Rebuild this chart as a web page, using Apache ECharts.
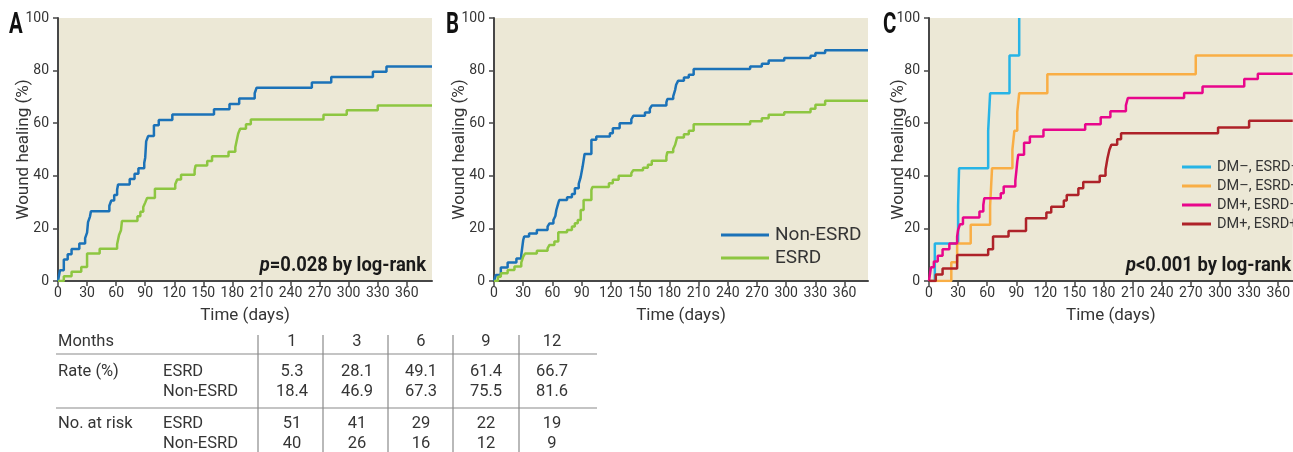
<!DOCTYPE html>
<html>
<head>
<meta charset="utf-8">
<script src="https://cdn.jsdelivr.net/npm/echarts@6/dist/echarts.min.js"></script>
<style>
  html, body { margin: 0; padding: 0; background: #fff; }
  #main { width: 1293px; height: 452px; }
</style>
</head>
<body>
<div id="main"></div>
<script>
var FONT = "Roboto, 'Liberation Sans', sans-serif";

// panel A: all patients, [days, healed %]
var aNonEsrd = [[0,0],[2,4.1],[6,8.2],[10,10.2],[14,12.2],[22,14.3],[28,16.3],[30,18.4],[31,22.4],[33,24.5],[34,26.5],[53,28.6],[55,30.6],[58,32.7],[61,34.7],[62,36.7],[74,38.8],[79,40.8],[83,42.9],[89,44.9],[90,46.9],[91,53.1],[93,55.1],[99,59.2],[104,61.2],[118,63.3],[161,65.3],[177,67.3],[187,69.4],[203,71.4],[205,73.5],[262,75.5],[282,77.6],[325,79.6],[339,81.6],[386,81.6]];
var aEsrd = [[0,0],[6,1.8],[14,3.5],[24,5.3],[30,10.5],[43,12.3],[61,14.0],[63,17.5],[65,19.3],[66,22.8],[82,24.6],[85,26.3],[88,28.1],[90,29.8],[92,31.6],[100,35.1],[121,36.8],[123,38.6],[127,40.4],[141,42.1],[142,43.9],[154,45.6],[159,47.4],[176,49.1],[183,50.9],[185,54.4],[186,56.1],[188,57.9],[194,59.6],[199,61.4],[274,63.2],[298,64.9],[330,66.7],[386,66.7]];

// panel B
var bNonEsrd = [[0,0],[2,2.3],[7,5.1],[14,7.0],[23,8.6],[28,9.9],[30,15.6],[31,16.9],[36,18.1],[44,19.4],[55,20.7],[57,21.9],[61,23.2],[63,24.7],[64,27.0],[66,29.6],[67,30.8],[75,31.8],[80,33.1],[83,35.3],[87,36.9],[89,39.5],[91,43.5],[93,48.3],[100,53.7],[105,54.9],[119,56.2],[122,58.1],[129,60.0],[141,61.5],[143,62.8],[155,64.1],[160,65.5],[162,66.7],[177,67.9],[178,69.2],[184,70.2],[186,72.7],[187,74.6],[189,76.1],[195,77.4],[200,78.4],[205,80.6],[263,81.6],[275,82.6],[282,83.8],[298,84.8],[325,85.6],[330,86.7],[340,87.7],[384,87.7]];
var bEsrd = [[0,0],[4,1.6],[7,2.9],[14,4.2],[21,5.5],[28,7.0],[30,9.3],[32,10.5],[44,11.5],[55,12.4],[57,13.7],[62,15.0],[66,18.5],[75,19.4],[80,20.7],[83,22.0],[86,23.2],[89,27.0],[92,30.8],[100,34.6],[101,35.7],[118,37.2],[122,38.5],[128,40.0],[141,41.0],[143,42.1],[153,43.1],[158,44.2],[162,45.7],[177,47.3],[178,49.0],[184,50.2],[186,51.8],[188,54.6],[195,55.8],[200,57.1],[205,59.6],[263,60.7],[275,61.9],[282,63.2],[298,64.2],[325,65.5],[330,67.0],[340,68.5],[384,68.5]];

// panel C
var cDmNoEsrdNo = [[0,0],[6,14.3],[30,28.6],[31,42.9],[61,57.1],[63,71.4],[83,85.7],[93,100]];
var cDmNoEsrdYes = [[0,0],[23,7.1],[29,14.3],[43,21.4],[63,28.6],[64,35.7],[65,42.9],[86,50.0],[88,57.1],[91,64.3],[93,71.4],[122,78.6],[275,85.7],[375,85.7]];
var cDmYesEsrdNo = [[0,0],[2,5.2],[5,7.4],[9,9.6],[14,12.1],[21,14.3],[29,16.9],[30,19.4],[32,21.6],[35,24.1],[52,26.4],[56,28.9],[57,31.5],[74,33.4],[77,35.9],[89,38.2],[90,41.6],[91,45.4],[92,48.0],[98,52.6],[104,54.9],[118,57.5],[161,59.6],[177,62.3],[187,64.5],[203,66.8],[205,69.6],[263,71.5],[282,74.0],[325,76.8],[339,78.8],[375,78.8]];
var cDmYesEsrdYes = [[0,0],[7,2.5],[14,4.8],[29,9.9],[61,12.1],[66,16.9],[82,19.0],[100,23.9],[121,26.0],[126,28.2],[139,30.6],[142,32.7],[154,35.3],[159,37.6],[176,40.0],[182,42.3],[184,46.7],[186,49.9],[188,51.8],[194,53.9],[198,56.2],[298,58.4],[330,60.9],[375,60.9]];

var xTicks = [0,30,60,90,120,150,180,210,240,270,300,330,360];

// table under panel A
var months = ['1','3','6','9','12'];
var rateEsrd = ['5.3','28.1','49.1','61.4','66.7'];
var rateNonEsrd = ['18.4','46.9','67.3','75.5','81.6'];
var riskEsrd = ['51','41','29','22','19'];
var riskNonEsrd = ['40','26','16','12','9'];

var myChart = echarts.init(document.getElementById('main'));

var axisColor = '#474747';
var textColor = '#353535';
var bg = '#ece8d6';

function xAxisOf(i, max) {
	return {
		type: 'value', gridIndex: i, min: 0, max: max, interval: 30,
		name: 'Time (days)', nameLocation: 'middle', nameGap: 26, nameMoveOverlap: false,
		nameTextStyle: { fontSize: 17, color: textColor, fontFamily: FONT },
		axisLine: { lineStyle: { color: axisColor, width: 2 } },
		axisTick: { customValues: xTicks, length: 5, lineStyle: { color: axisColor, width: 1.5 } },
		axisLabel: { customValues: xTicks, fontSize: 14, color: textColor, fontFamily: FONT, margin: 5 },
		splitLine: { show: false }
	};
}
function yAxisOf(i, gap) {
	return {
		type: 'value', gridIndex: i, min: 0, max: 100, interval: 20,
		name: 'Wound healing (%)', nameLocation: 'middle', nameGap: gap, nameMoveOverlap: false,
		nameTextStyle: { fontSize: 17, color: textColor, fontFamily: FONT },
		axisLine: { show: true, lineStyle: { color: axisColor, width: 2 } },
		axisTick: { show: true, length: 5, lineStyle: { color: axisColor, width: 1.5 } },
		axisLabel: { fontSize: 14, color: textColor, fontFamily: FONT, margin: 9 },
		splitLine: { show: false }
	};
}
function km(name, data, color, i) {
	return {
		name: name, type: 'line', step: 'end', data: data,
		xAxisIndex: i, yAxisIndex: i, symbol: 'none',
		lineStyle: { color: color, width: 2.5 }, itemStyle: { color: color }
	};
}

var graphics = [];
// panel letters and p-values
[['A', 9], ['B', 446], ['C', 883]].forEach(function(p) {
	graphics.push({ type: 'text', x: p[1], y: 10, scaleX: 0.68, style: { text: p[0], align: 'left', verticalAlign: 'top', fontSize: 30, fontWeight: 'bold', fill: '#111', fontFamily: FONT } });
});
[['{i|p}=0.028 by log-rank', 426], ['{i|p}<0.001 by log-rank', 1291]].forEach(function(p) {
	graphics.push({ type: 'text', x: p[1], y: 266, scaleX: 0.92, style: {
		text: p[0], align: 'right', verticalAlign: 'middle', fontSize: 20, fontWeight: 'bold', fill: '#1a1a1a', fontFamily: FONT,
		rich: { i: { fontStyle: 'italic', fontWeight: 'bold', fontSize: 20, fontFamily: FONT, fill: '#1a1a1a' } }
	} });
});

// table
var colX = [292, 357, 421, 486, 552];
var sepX = [258, 323, 388, 453, 519];
var rowY = { months: 342, r1: 372, r2: 392, k1: 424, k2: 444 };
function txt(s, x, y, align) {
	graphics.push({ type: 'text', x: x, y: y, style: { text: s, align: align || 'center', verticalAlign: 'middle', fontSize: 16.5, fill: textColor, fontFamily: FONT } });
}
txt('Months', 58, rowY.months, 'left');
txt('Rate (%)', 58, rowY.r1, 'left');
txt('ESRD', 163, rowY.r1, 'left');
txt('Non-ESRD', 163, rowY.r2, 'left');
txt('No. at risk', 58, rowY.k1, 'left');
txt('ESRD', 163, rowY.k1, 'left');
txt('Non-ESRD', 163, rowY.k2, 'left');
months.forEach(function(m, j) {
	txt(m, colX[j], rowY.months);
	txt(rateEsrd[j], colX[j], rowY.r1);
	txt(rateNonEsrd[j], colX[j], rowY.r2);
	txt(riskEsrd[j], colX[j], rowY.k1);
	txt(riskNonEsrd[j], colX[j], rowY.k2);
});
[354, 408].forEach(function(y) {
	graphics.push({ type: 'line', shape: { x1: 56, y1: y, x2: 597, y2: y }, style: { stroke: '#8a8a8a', lineWidth: 1.2 } });
});
sepX.forEach(function(x) {
	graphics.push({ type: 'line', shape: { x1: x, y1: 335, x2: x, y2: 452 }, style: { stroke: '#8a8a8a', lineWidth: 1.2 } });
});

var option = {
	animation: false,
	backgroundColor: '#fff',
	grid: [
		{ left: 58, top: 18, width: 374, height: 263, show: true, backgroundColor: bg, borderWidth: 0 },
		{ left: 494, top: 18, width: 374, height: 263, show: true, backgroundColor: bg, borderWidth: 0 },
		{ left: 929, top: 18, width: 364, height: 263, show: true, backgroundColor: bg, borderWidth: 0 }
	],
	xAxis: [xAxisOf(0, 386), xAxisOf(1, 384), xAxisOf(2, 375)],
	yAxis: [yAxisOf(0, 26), yAxisOf(1, 26), yAxisOf(2, 22)],
	legend: [
		{ data: ['Non-ESRD', 'ESRD'], orient: 'vertical', left: 716, top: 220, icon: 'rect', itemWidth: 48, itemHeight: 3, itemGap: 3,
		  textStyle: { fontSize: 19, lineHeight: 20, color: textColor, fontFamily: FONT, padding: [0, 0, 0, 1] } },
		{ data: ['DM–, ESRD–', 'DM–, ESRD+', 'DM+, ESRD–', 'DM+, ESRD+'], orient: 'vertical', left: 1177, top: 154, icon: 'rect', itemWidth: 29, itemHeight: 3, itemGap: 3,
		  textStyle: { fontSize: 14.5, lineHeight: 16, color: textColor, fontFamily: FONT, padding: [0, 0, 0, 1] } }
	],
	graphic: graphics,
	series: [
		km('Non-ESRD', aNonEsrd, '#1b72b8', 0),
		km('ESRD', aEsrd, '#8dc641', 0),
		km('Non-ESRD', bNonEsrd, '#1b72b8', 1),
		km('ESRD', bEsrd, '#8dc641', 1),
		km('DM–, ESRD–', cDmNoEsrdNo, '#27b4e6', 2),
		km('DM–, ESRD+', cDmNoEsrdYes, '#f9ae45', 2),
		km('DM+, ESRD–', cDmYesEsrdNo, '#e8068c', 2),
		km('DM+, ESRD+', cDmYesEsrdYes, '#ae2229', 2)
	]
};
myChart.setOption(option);
</script>
</body>
</html>
